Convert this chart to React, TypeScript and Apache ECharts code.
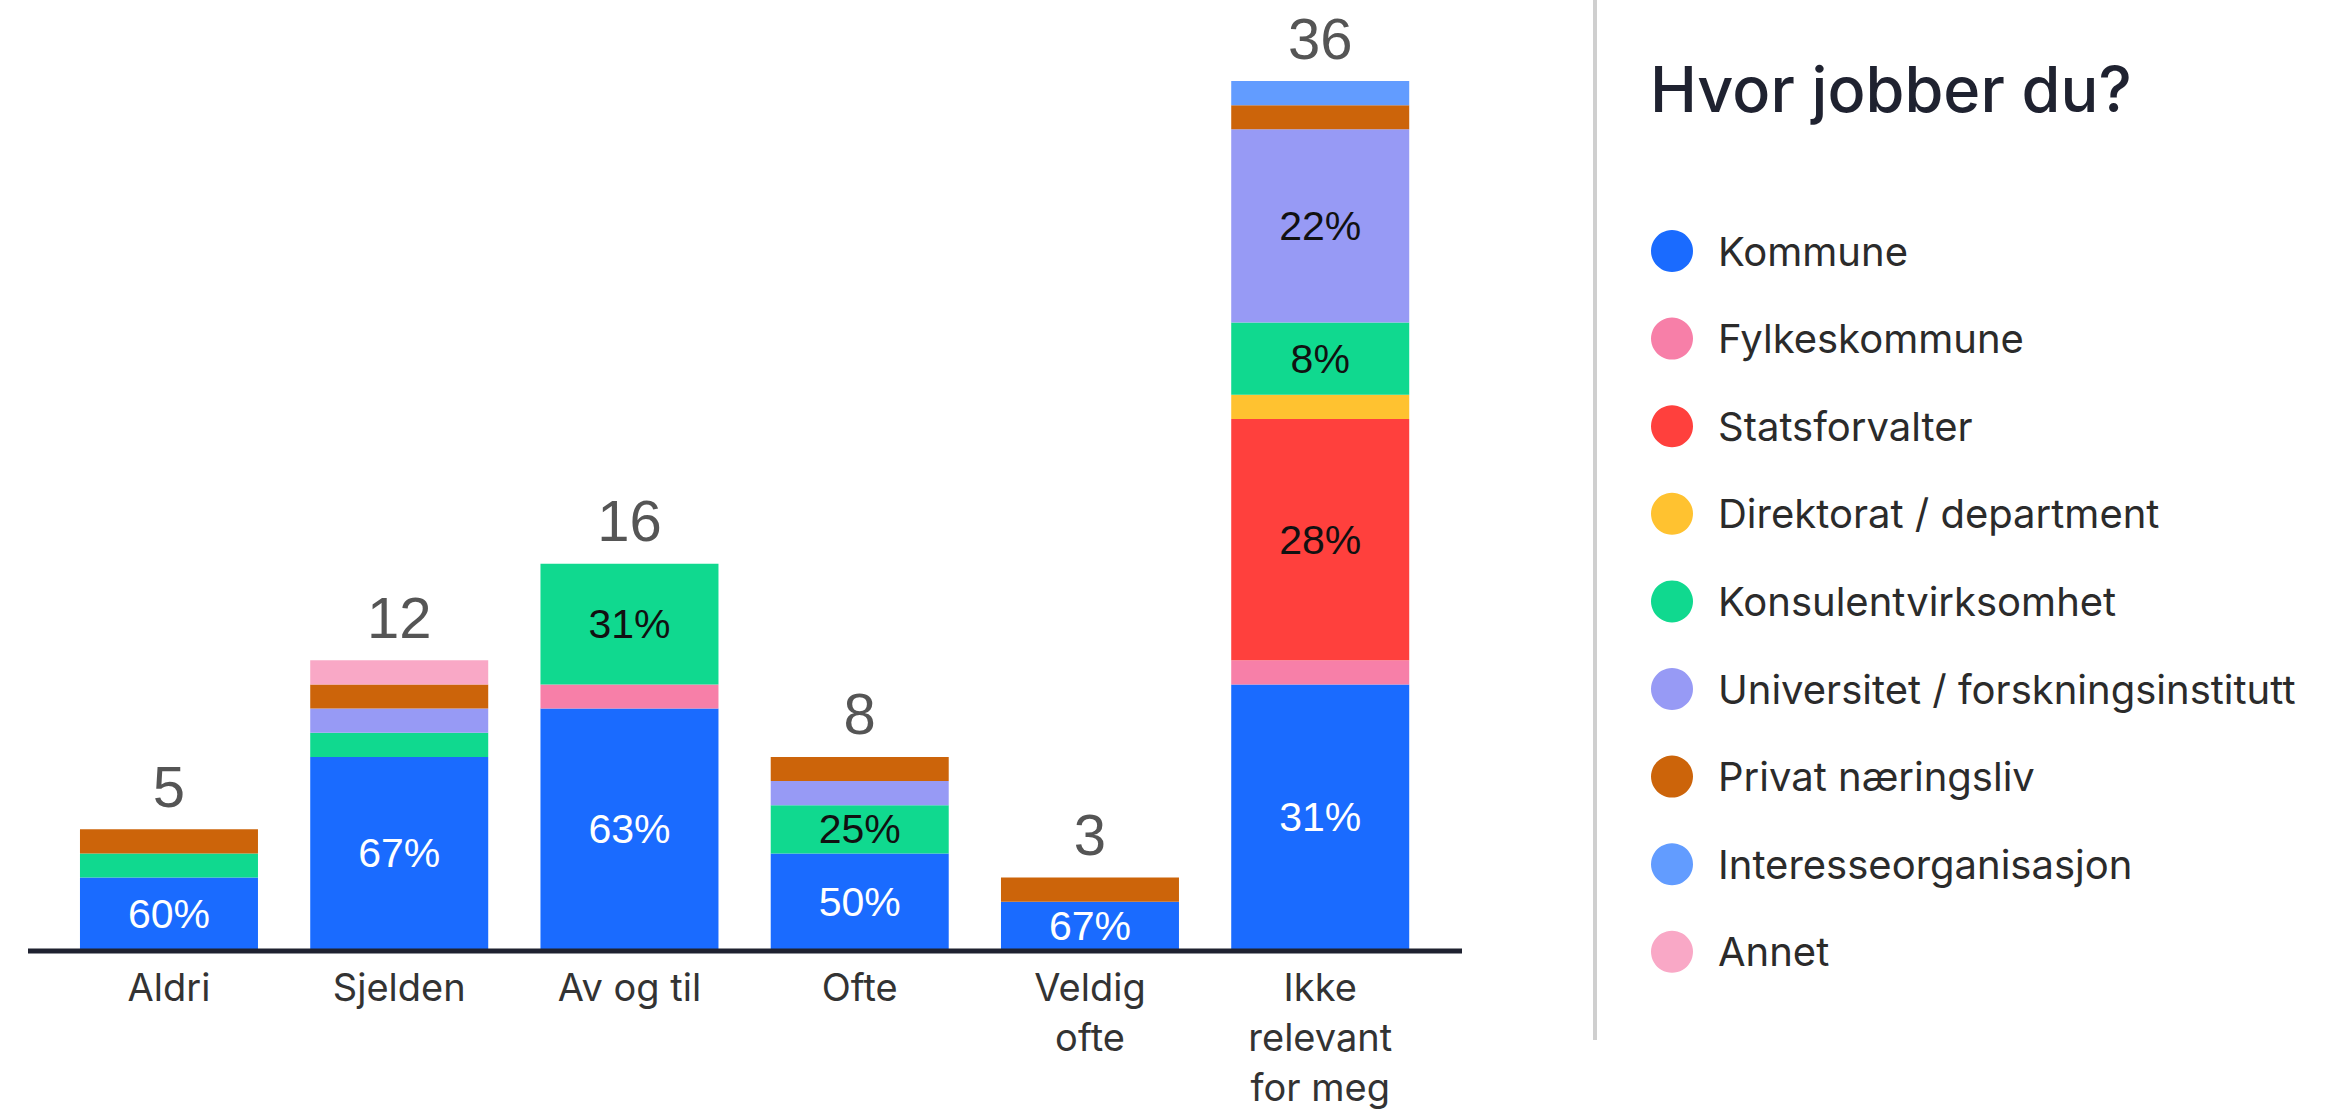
import React, { useEffect, useRef } from "react";
import * as echarts from "echarts";

const categories = ["Aldri", "Sjelden", "Av og til", "Ofte", "Veldig\nofte", "Ikke\nrelevant\nfor meg"];
const seriesNames = [
  "Kommune",
  "Fylkeskommune",
  "Statsforvalter",
  "Direktorat / department",
  "Konsulentvirksomhet",
  "Universitet / forskningsinstitutt",
  "Privat næringsliv",
  "Interesseorganisasjon",
  "Annet",
];
const kommune = [3, 8, 10, 4, 2, 11];
const fylkeskommune = [0, 0, 1, 0, 0, 1];
const statsforvalter = [0, 0, 0, 0, 0, 10];
const direktorat = [0, 0, 0, 0, 0, 1];
const konsulent = [1, 1, 5, 2, 0, 3];
const universitet = [0, 1, 0, 1, 0, 8];
const privat = [1, 1, 0, 1, 1, 1];
const interesse = [0, 0, 0, 0, 0, 1];
const annet = [0, 1, 0, 0, 0, 0];
const colors = ["#1a6bff", "#f77fa8", "#ff403d", "#ffc230", "#10d98f", "#979af5", "#cc640a", "#629cff", "#f9a8c6"];

const allValues = [kommune, fylkeskommune, statsforvalter, direktorat, konsulent, universitet, privat, interesse, annet];
const totals = categories.map((_, i) => allValues.reduce((s, arr) => s + arr[i], 0));

export default function App() {
  const ref = useRef<HTMLDivElement>(null);
  useEffect(() => {
    document.body.style.margin = "0";
    const chart = echarts.init(ref.current!, null, { renderer: "svg" });
    const barSeries = allValues.map((vals, si) => ({
      name: seriesNames[si],
      type: "bar",
      stack: "total",
      barWidth: 178,
      data: vals,
      itemStyle: { color: colors[si] },
      label: {
        show: true,
        position: "inside",
        fontFamily: "Liberation Sans",
        fontSize: 41,
        color: si === 0 ? "#ffffff" : "#111111",
        formatter: (p: any) => (p.value >= 2 ? Math.round((p.value / totals[p.dataIndex]) * 100) + "%" : ""),
      },
    }));
    chart.setOption({
      animation: false,
      backgroundColor: "#ffffff",
      title: {
        text: "Hvor jobber du?",
        left: 1650,
        top: 57,
        padding: 0,
        textStyle: { fontFamily: "Inter", fontSize: 63, fontWeight: 500, color: "#1f2230" },
      },
      legend: {
        data: seriesNames,
        orient: "vertical",
        left: 1651,
        top: 230,
        padding: 0,
        icon: "circle",
        itemWidth: 42,
        itemHeight: 42,
        itemGap: 45.6,
        selectedMode: false,
        textStyle: { fontFamily: "Inter", fontSize: 40, color: "#2b2b2b", padding: [0, 0, 0, 20] },
      },
      grid: { left: 53.85, width: 1381.5, top: 81, bottom: 161, containLabel: false },
      xAxis: {
        type: "category",
        data: categories,
        axisLine: { show: false },
        axisTick: { show: false },
        axisLabel: {
          interval: 0,
          margin: 12,
          fontFamily: "Inter",
          fontSize: 38,
          lineHeight: 50,
          color: "#333333",
        },
      },
      yAxis: { type: "value", min: 0, max: 36, show: false, splitLine: { show: false } },
      graphic: [
        { type: "line", shape: { x1: 28, y1: 951, x2: 1462, y2: 951 }, style: { stroke: "#1f2230", lineWidth: 5 }, z: 10 },
        { type: "line", shape: { x1: 1595, y1: 0, x2: 1595, y2: 1040 }, style: { stroke: "#cfcfcf", lineWidth: 4 } },
      ],
      series: [
        ...barSeries,
        {
          name: "total",
          type: "scatter",
          data: totals,
          symbolSize: 0,
          label: {
            show: true,
            position: "top",
            distance: 14,
            fontFamily: "Liberation Sans",
            fontSize: 58,
            color: "#2a2a2a",
            formatter: (p: any) => String(p.value),
          },
        },
      ],
    });
    return () => chart.dispose();
  }, []);
  return <div ref={ref} style={{ width: 2326, height: 1112 }} />;
}
